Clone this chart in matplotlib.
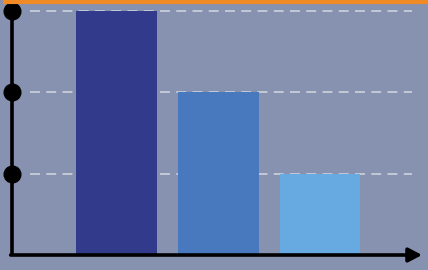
import matplotlib
matplotlib.use("Agg")
import matplotlib.pyplot as plt
from matplotlib.lines import Line2D

# data
categories = ["A", "B", "C"]
values = [3, 2, 1]
grid_levels = [1, 2, 3]
bar_colors = ["#323b8b", "#4879bf", "#67a9e1"]

BG = "#8791b0"

fig = plt.figure(figsize=(4.28, 2.70), dpi=100)
fig.patch.set_facecolor(BG)

# axes: from x px 12 to 420, y px 255 (bottom) up to the top edge
W, H = 428, 270
ax = fig.add_axes([12 / W, 15 / H, 408 / W, 255 / H])
ax.set_facecolor(BG)
ax.set_xlim(-1.027, 2.98)
ax.set_ylim(0, 255 / 81.33)

xs = list(range(len(categories)))
ax.bar(xs, values, width=0.79, color=bar_colors, zorder=2)

for lvl in grid_levels:
    ax.axhline(lvl, xmin=0.044, xmax=0.98, color="#c9cdda", lw=1.3,
               ls=(0, (5.5, 3.5)), zorder=1)

# y axis with dots
ax.plot([-1.027, -1.027], [0, grid_levels[-1]], color="black", lw=2.6,
        clip_on=False, zorder=3, solid_capstyle="butt")
ax.plot([-1.027] * len(grid_levels), grid_levels, "o", color="black",
        ms=12, clip_on=False, zorder=4)

# x axis arrow
ax.annotate("", xy=(3.0, 0), xytext=(-1.04, 0),
            arrowprops=dict(arrowstyle="-|>,head_length=0.8,head_width=0.42",
                            color="black", lw=2.6, shrinkA=0, shrinkB=0),
            annotation_clip=False, zorder=5)

for s in ax.spines.values():
    s.set_visible(False)
ax.set_xticks([])
ax.set_yticks([])

# orange top line
fig.add_artist(Line2D([5 / W, 1], [1 - 2.0 / H, 1 - 2.0 / H],
                      color="#f08a24", lw=3.0, transform=fig.transFigure))

fig.savefig("out.png", dpi=100, facecolor=BG)
